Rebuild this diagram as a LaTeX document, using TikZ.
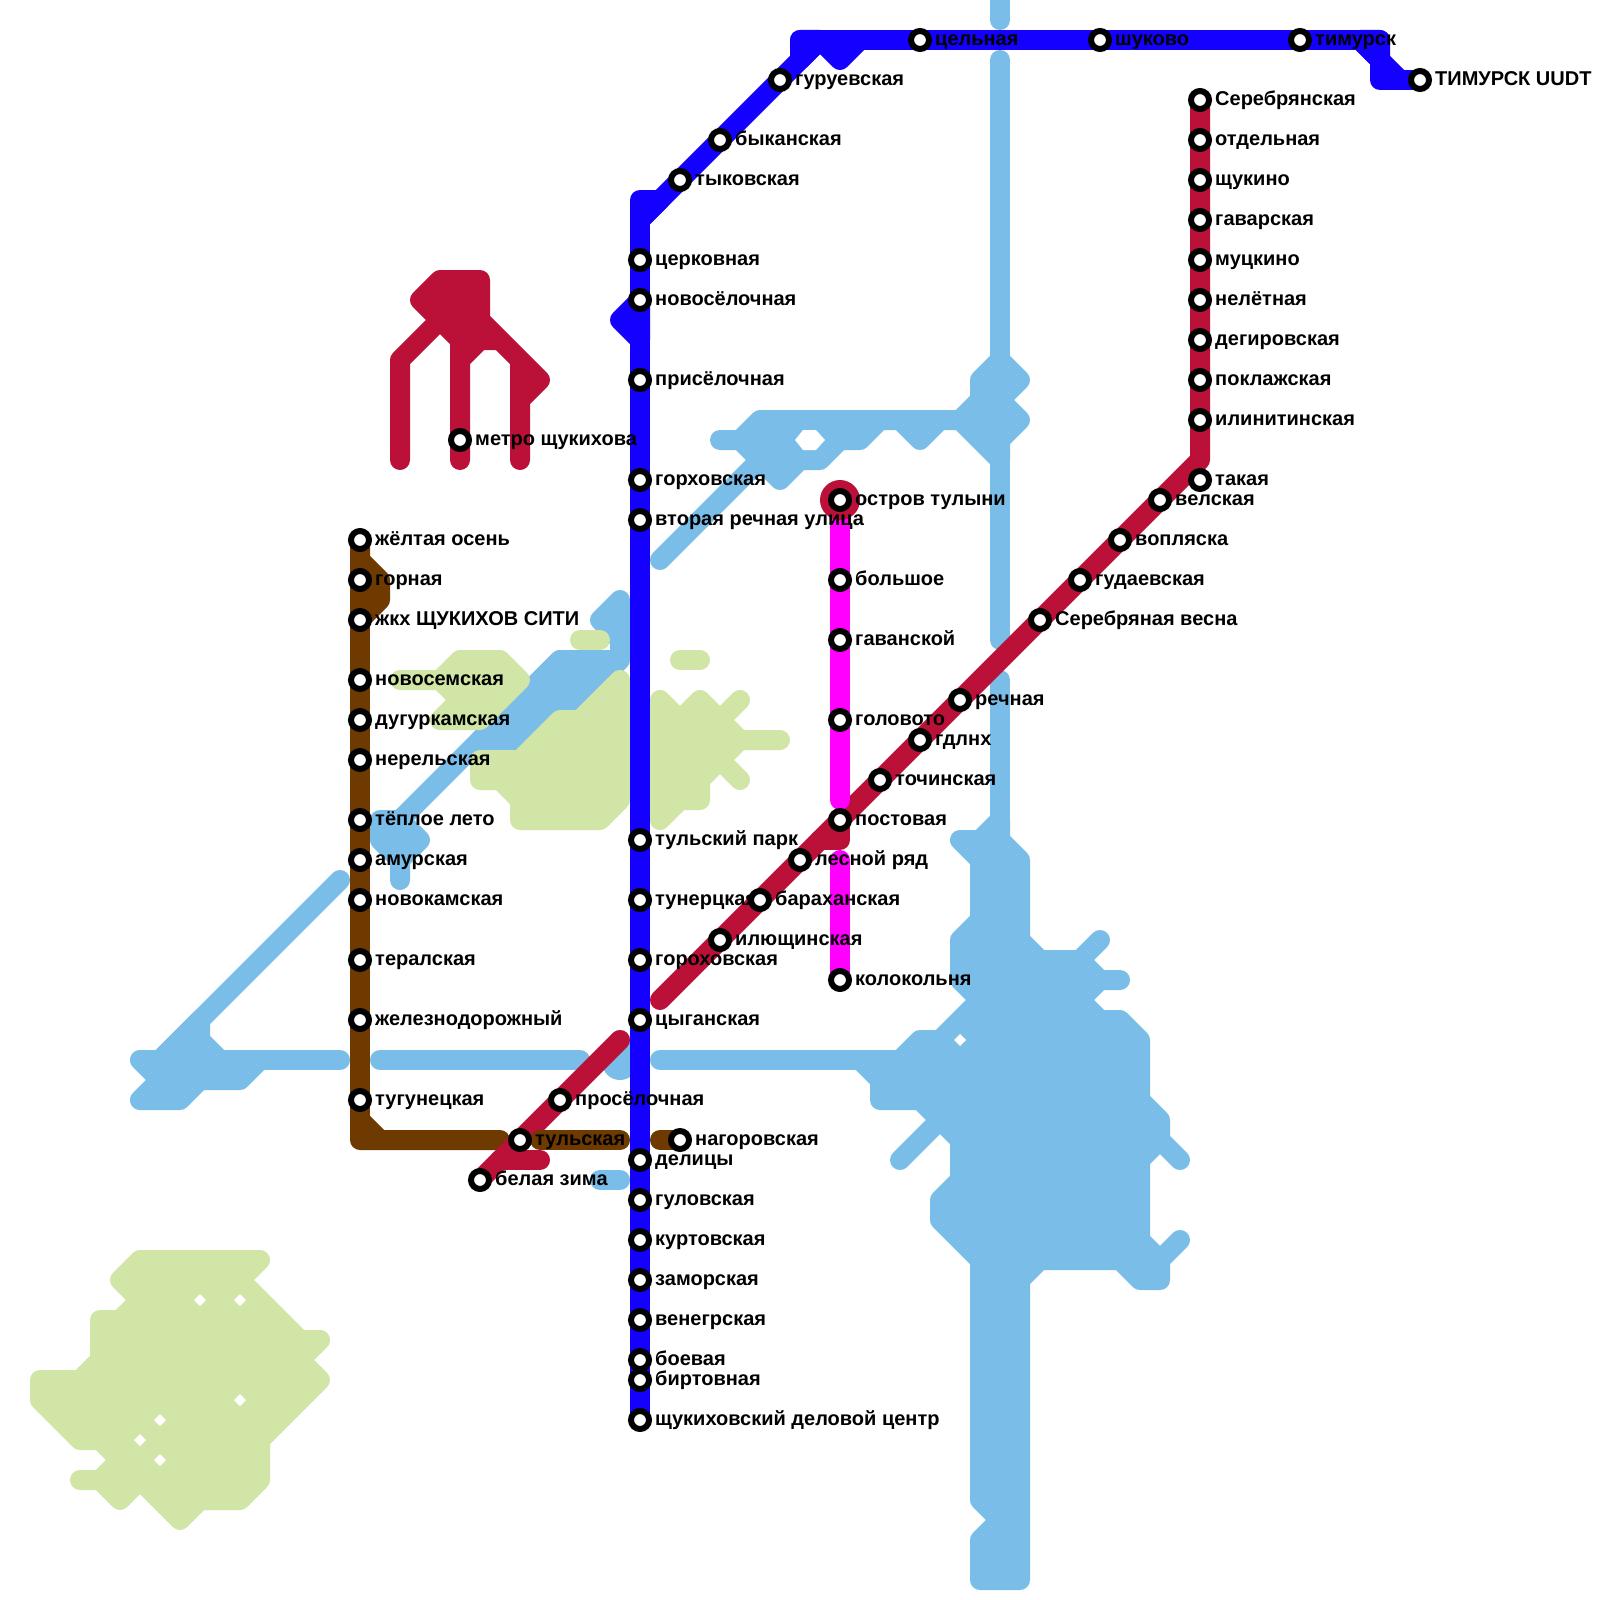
\documentclass[tikz,border=0pt]{standalone}
\usepackage{fontspec}
\setmainfont{Liberation Sans}
\definecolor{lbc}{HTML}{7ABDE9}
\definecolor{grc}{HTML}{D0E5A6}
\definecolor{dbc}{HTML}{1400FF}
\definecolor{rdc}{HTML}{BB1139}
\definecolor{brc}{HTML}{6E3A00}
\definecolor{mgc}{HTML}{FF00FF}
\tikzset{
  ln/.style={line width=20pt,line join=round,line cap=round},
  lb/.style={ln,draw=lbc,fill=lbc},
  gr/.style={ln,draw=grc,fill=grc},
  db/.style={ln,draw=dbc,fill=dbc},
  rd/.style={ln,draw=rdc,fill=rdc},
  br/.style={ln,draw=brc,fill=brc},
  mg/.style={ln,draw=mgc},
  stn/.style={circle,draw=black,fill=white,line width=6pt,minimum size=18pt,inner sep=0pt},
  lab/.style={anchor=base west,inner sep=0pt,font=\bfseries\fontsize{20}{22}\selectfont,text=black}
}
\newcommand\lbl[2]{\node[lab] (L#1) at ([shift={(15,5.3)}]#1) {#2};}
\newcommand\stnode[1]{\node[stn] (N#1) at (#1) {};}
\newcommand\dmd[2]{\fill[white] (#1-6,#2)--(#1,#2-6)--(#1+6,#2)--(#1,#2+6)--cycle;}
\begin{document}
\begin{tikzpicture}[x=1pt,y=-1pt]
\useasboundingbox (0,0) rectangle (1600,1600);
\fill[white] (0,0) rectangle (1600,1600);
% station positions
\foreach \n/\px/\py in {
 a1/640/260,a2/640/300,a3/640/380,a4/640/480,a5/640/520,a6/640/840,a7/640/900,a8/640/960,a9/640/1020,
 a10/640/1160,a11/640/1200,a12/640/1240,a13/640/1280,a14/640/1320,a15/640/1360,a16/640/1380,a17/640/1420,
 b1/780/80,b2/720/140,b3/680/180,b4/920/40,b5/1100/40,b6/1300/40,b7/1420/80,
 c1/1200/100,c2/1200/140,c3/1200/180,c4/1200/220,c5/1200/260,c6/1200/300,c7/1200/340,c8/1200/380,c9/1200/420,c10/1200/480,
 c11/1160/500,c12/1120/540,c13/1080/580,c14/1040/620,c15/960/700,c16/920/740,c17/880/780,c18/840/820,c19/800/860,c20/760/900,c21/720/940,
 c22/560/1100,c23/520/1140,c24/480/1180,c25/460/440,
 m1/840/500,m2/840/580,m3/840/640,m4/840/720,m5/840/980,
 d1/360/540,d2/360/580,d3/360/620,d4/360/680,d5/360/720,d6/360/760,d7/360/820,d8/360/860,d9/360/900,d10/360/960,d11/360/1020,d12/360/1100,d13/680/1140
}{\coordinate (\n) at (\px,\py);}
% free ends
\coordinate (rdEnd) at (660,1000);
\coordinate (rdEndB) at (620,1040);
\coordinate (rdBend) at (1200,460);
% ---------- light blue ----------
\draw[lb] (1000,0)--(1000,20);
\draw[lb] (1000,60)--(1000,360);
\draw[lb] (1000,460)--(1000,640);
\draw[lb] (1000,680)--(1000,840);
\draw[lb] (720,440)--(740,440)--(760,420)--(960,420)--(980,400)--(980,380)--(1000,360)--(1020,380)--(1000,400)--(1020,420)--(1000,440)--(1000,460)--(960,420)--(940,420)--(920,440)--(900,420)--(880,420)--(860,440)--(840,440)--(820,460)--(800,460)--(780,480)--(740,440)--cycle;
\draw[lb] (660,560)--(760,460);
\fill[white] (795,440)--(803,430)--(816,430)--(825,440)--(816,450)--(803,450)--cycle;
% big blob
\draw[lb] (1000,820)--(1000,840)--(1020,860)--(1020,940)--(1040,960)--(1080,960)--(1100,940)--(1080,960)--(1100,980)--(1120,980)--(1100,980)--(1080,1000)--(1100,1020)--(1120,1020)--(1140,1040)--(1140,1100)--(1160,1120)--(1160,1140)--(1180,1160)--(1160,1140)--(1140,1160)--(1140,1240)--(1160,1260)--(1180,1240)--(1160,1260)--(1160,1280)--(1140,1280)--(1120,1260)--(1040,1260)--(1020,1280)--(1020,1580)--(980,1580)--(980,1540)--(1000,1520)--(980,1500)--(980,1260)--(940,1220)--(940,1200)--(960,1180)--(960,1140)--(940,1120)--(900,1160)--(940,1120)--(920,1100)--(880,1100)--(880,1080)--(860,1060)--(900,1060)--(920,1040)--(940,1040)--(980,1000)--(960,980)--(960,940)--(980,920)--(980,860)--(960,840)--(980,840)--cycle;
\dmd{960}{1040}
\draw[lb] (660,1060)--(880,1060);
\draw[lb] (380,1060)--(580,1060);
\draw[lb] (620,1040)--(620,1060);
\fill[lbc] (620,1062) circle (18);
\draw[lb] (600,1180)--(620,1180);
% left cluster
\draw[lb] (140,1060)--(160,1060)--(200,1020)--(200,1040)--(220,1060)--(260,1060)--(240,1080)--(200,1080)--(180,1100)--(140,1100)--(160,1080)--cycle;
\draw[lb] (160,1060)--(340,880);
\draw[lb] (220,1060)--(340,1060);
% band
\draw[lb] (620,600)--(600,620)--(620,640)--(620,660)--(540,740)--(480,740)--(560,660)--(620,660)--(620,600);
\draw[lb] (400,820)--(560,660);
\draw[lb] (380,820)--(400,820)--(420,840)--(400,860)--(400,880)--(400,860)--(380,840)--cycle;
% ---------- green ----------
\draw[gr] (140,1260)--(260,1260)--(240,1280)--(300,1340)--(320,1340)--(300,1360)--(320,1380)--(260,1440)--(260,1480)--(240,1500)--(200,1500)--(180,1520)--(140,1480)--(120,1500)--(100,1480)--(80,1480)--(100,1480)--(120,1460)--(100,1440)--(80,1440)--(40,1400)--(40,1380)--(80,1380)--(100,1360)--(100,1320)--(120,1320)--(140,1300)--(120,1280)--cycle;
\dmd{200}{1300}\dmd{240}{1300}\dmd{240}{1400}\dmd{160}{1420}\dmd{140}{1440}\dmd{160}{1460}
\draw[gr] (400,680)--(440,680)--(460,660)--(500,660)--(520,680)--(480,720)--(440,720)--(460,700)--(440,680)--cycle;
\draw[gr] (580,640)--(600,640);
\draw[gr] (680,660)--(700,660);
\draw[gr] (620,680)--(580,720)--(560,720)--(520,760)--(480,760)--(480,780)--(500,780)--(520,800)--(520,820)--(600,820)--(620,800)--cycle;
\draw[gr] (660,700)--(680,720)--(700,700)--(720,720)--(740,700)--(720,720)--(740,740)--(780,740)--(740,740)--(720,760)--(740,780)--(720,760)--(700,780)--(700,800)--(680,800)--(660,820)--cycle;
% ---------- brown ----------
\draw[br] (d1)--(360,560)--(380,580)--(380,600)--(360,620)--cycle;
\draw[ln,draw=brc] (d3)--(360,1120);
\draw[br] (360,1120)--(380,1140)--(500,1140)--(360,1140)--cycle;
% ---------- red ----------
\draw[ln,draw=rdc] (c24)--(rdEndB);
\draw[ln,draw=rdc] (500,1160)--(540,1160);
\draw[ln,draw=rdc] (rdEnd)--(rdBend)--(c1);
\draw[ln,draw=rdc] (820,840)--(840,840)--(840,820);
\draw[rd] (440,280)--(480,280)--(480,320)--(540,380)--(520,400)--(520,460)--(520,360)--(500,340)--(480,340)--(460,360)--(460,460)--(460,340)--(440,320)--(400,360)--(400,460)--(400,360)--(440,320)--(420,300)--cycle;
% brown over red
\draw[ln,draw=brc] (540,1140)--(620,1140);
\draw[ln,draw=brc] (660,1140)--(d13);
% ---------- magenta ----------
\draw[mg] (m1)--(840,800);
\draw[mg] (840,860)--(m5);
\fill[rdc] (m1) circle (20);
% ---------- blue ----------
\draw[ln,draw=dbc,line cap=butt] (640,1420)--(640,220);
\draw[db] (640,300)--(620,320)--(640,340)--cycle;
\draw[db] (640,220)--(640,200)--(660,200)--cycle;
\draw[ln,draw=dbc] (640,220)--(820,40)--(840,60)--(860,40);
\draw[db] (800,60)--(800,40)--(820,40)--cycle;
\draw[ln,draw=dbc] (800,40)--(1380,40)--(1380,80)--(b7);
\draw[db] (1360,40)--(1380,40)--(1380,60)--cycle;
\draw[ln,draw=dbc] (1360,40)--(1400,80);
% ---------- labels ----------
\lbl{a1}{церковная}\lbl{a2}{новосёлочная}\lbl{a3}{присёлочная}\lbl{a4}{горховская}\lbl{a5}{вторая речная улица}
\lbl{a6}{тульский парк}\lbl{a7}{тунерцкая}\lbl{a8}{гороховская}\lbl{a9}{цыганская}\lbl{a10}{делицы}\lbl{a11}{гуловская}
\lbl{a12}{куртовская}\lbl{a13}{заморская}\lbl{a14}{венегрская}\lbl{a15}{боевая}\lbl{a16}{биртовная}\lbl{a17}{щукиховский деловой центр}
\lbl{b1}{гуруевская}\lbl{b2}{быканская}\lbl{b3}{тыковская}\lbl{b4}{цельная}\lbl{b5}{шуково}\lbl{b6}{тимурск}\lbl{b7}{ТИМУРСК UUDT}
\lbl{c1}{Серебрянская}\lbl{c2}{отдельная}\lbl{c3}{щукино}\lbl{c4}{гаварская}\lbl{c5}{муцкино}\lbl{c6}{нелётная}\lbl{c7}{дегировская}
\lbl{c8}{поклажская}\lbl{c9}{илинитинская}\lbl{c10}{такая}\lbl{c11}{велская}\lbl{c12}{вопляска}\lbl{c13}{гудаевская}\lbl{c14}{Серебряная весна}
\lbl{c15}{речная}\lbl{c16}{гдлнх}\lbl{c17}{точинская}\lbl{c18}{постовая}\lbl{c19}{лесной ряд}\lbl{c20}{бараханская}\lbl{c21}{илющинская}
\lbl{c22}{просёлочная}\lbl{c23}{тульская}\lbl{c24}{белая зима}\lbl{c25}{метро щукихова}
\lbl{m1}{остров тулыни}\lbl{m2}{большое}\lbl{m3}{гаванской}\lbl{m4}{головото}\lbl{m5}{колокольня}
\lbl{d1}{жёлтая осень}\lbl{d2}{горная}\lbl{d3}{жкх ЩУКИХОВ СИТИ}\lbl{d4}{новосемская}\lbl{d5}{дугуркамская}\lbl{d6}{нерельская}
\lbl{d7}{тёплое лето}\lbl{d8}{амурская}\lbl{d9}{новокамская}\lbl{d10}{тералская}\lbl{d11}{железнодорожный}\lbl{d12}{тугунецкая}\lbl{d13}{нагоровская}
% ---------- stations ----------
\foreach \n in {a1,a2,a3,a4,a5,a6,a7,a8,a9,a10,a11,a12,a13,a14,a15,a16,a17,b1,b2,b3,b4,b5,b6,b7,c1,c2,c3,c4,c5,c6,c7,c8,c9,c10,c11,c12,c13,c14,c15,c16,c17,c18,c19,c20,c21,c22,c23,c24,c25,m1,m2,m3,m4,m5,d1,d2,d3,d4,d5,d6,d7,d8,d9,d10,d11,d12,d13}{\stnode{\n}}
\end{tikzpicture}
\end{document}
